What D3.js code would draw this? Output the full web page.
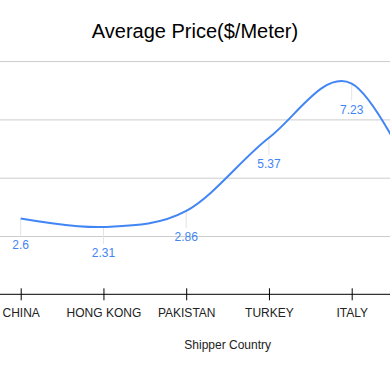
<!DOCTYPE html>
<html>
<head>
<meta charset="utf-8">
<script src="https://cdn.jsdelivr.net/npm/d3@7"></script>
<style>
  body { margin: 0; background: #fff; }
  svg { display: block; font-family: "Liberation Sans", Arial, sans-serif; }
</style>
</head>
<body>
<svg id="chart"></svg>
<script>
// Data (the last point lies past the right edge)
var countries = ['CHINA', 'HONG KONG', 'PAKISTAN', 'TURKEY', 'ITALY'];
var prices = [2.6, 2.31, 2.86, 5.37, 7.23, 2.5];
var gridValues = [2, 4, 6, 8];

var width = 390, height = 371;

var svg = d3.select('#chart')
    .attr('width', width)
    .attr('height', height);

// Scales: the plot continues past the window on both sides
var xScale = d3.scalePoint()
    .domain(d3.range(prices.length))
    .range([20.7, 20.7 + 82.75 * (prices.length - 1)]);

var yScale = d3.scaleLinear()
    .domain([0, 8])
    .range([294.3, 61.1]);

// Only the points that fall inside the window get a label
var shown = prices.slice(0, countries.length);

// Title
svg.append('text')
    .attr('x', width / 2)
    .attr('y', 38)
    .attr('text-anchor', 'middle')
    .attr('font-size', 20)
    .attr('fill', '#000')
    .text('Average Price($/Meter)');

// Gridlines
var grid = svg.append('g')
    .attr('class', 'grid')
    .call(d3.axisLeft(yScale).tickValues(gridValues).tickSize(-width).tickFormat(''));
grid.select('.domain').remove();
grid.selectAll('line').attr('stroke', '#cccccc');

// X axis
var xAxis = d3.axisBottom(xScale)
    .tickValues(d3.range(countries.length))
    .tickSize(6)
    .tickPadding(0)
    .tickFormat(function(i) { return countries[i]; });

var xg = svg.append('g')
    .attr('class', 'x-axis')
    .attr('transform', 'translate(0,' + yScale(0) + ')')
    .call(xAxis);
xg.select('.domain').remove();
xg.insert('line', ':first-child')
    .attr('x1', 0).attr('x2', width)
    .attr('stroke', '#000');
xg.selectAll('.tick line')
    .attr('y1', -6).attr('y2', 6)
    .attr('stroke', '#000');
xg.selectAll('.tick text')
    .attr('y', 22.7)
    .attr('dy', null)
    .attr('font-size', 12)
    .attr('font-family', '"Liberation Sans", Arial, sans-serif')
    .attr('fill', '#222');

// Axis title
svg.append('text')
    .attr('x', 227.7)
    .attr('y', 348.5)
    .attr('text-anchor', 'middle')
    .attr('font-size', 12)
    .attr('fill', '#222')
    .text('Shipper Country');

// Annotation stems
svg.selectAll('.stem')
    .data(shown)
    .enter()
    .append('line')
    .attr('class', 'stem')
    .attr('x1', function(d, i) { return xScale(i); })
    .attr('x2', function(d, i) { return xScale(i); })
    .attr('y1', function(d) { return yScale(d); })
    .attr('y2', function(d) { return yScale(d) + 17; })
    .attr('stroke', '#e3e3e3')
    .attr('stroke-width', 1);

// Line
var line = d3.line()
    .x(function(d, i) { return xScale(i); })
    .y(function(d) { return yScale(d); })
    .curve(d3.curveCardinal.tension(0));

svg.append('path')
    .datum(prices)
    .attr('fill', 'none')
    .attr('stroke', '#4285f4')
    .attr('stroke-width', 2)
    .attr('d', line);

// Value labels
svg.selectAll('.value')
    .data(shown)
    .enter()
    .append('text')
    .attr('class', 'value')
    .attr('x', function(d, i) { return xScale(i); })
    .attr('y', function(d) { return yScale(d) + 30; })
    .attr('text-anchor', 'middle')
    .attr('font-size', 12)
    .attr('fill', '#4285f4')
    .text(function(d) { return d; });
</script>
</body>
</html>
